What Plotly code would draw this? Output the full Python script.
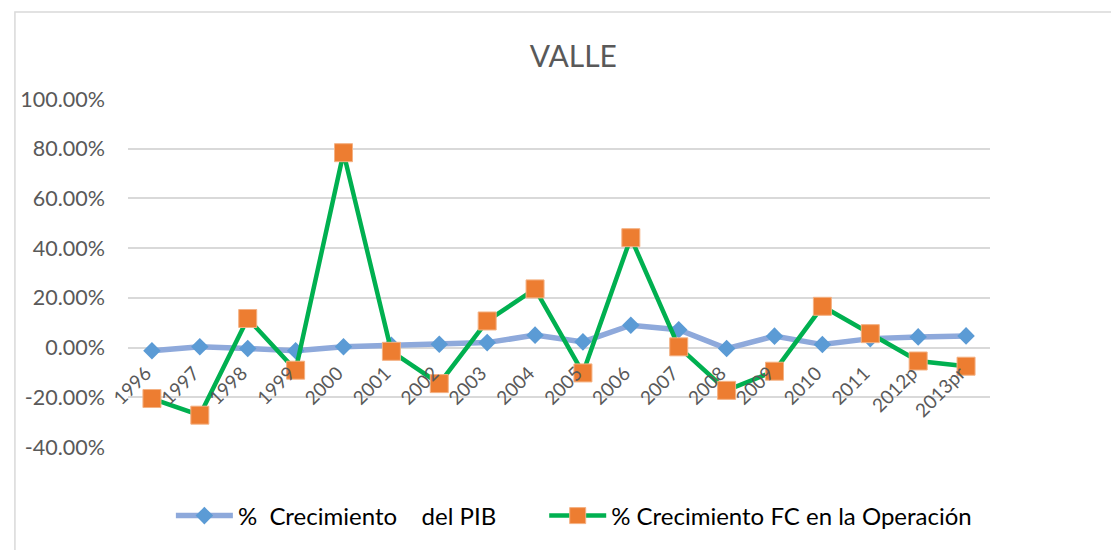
import plotly.graph_objects as go

years = ["1996", "1997", "1998", "1999", "2000", "2001", "2002", "2003", "2004",
         "2005", "2006", "2007", "2008", "2009", "2010", "2011", "2012p", "2013pr"]
pib = [-0.013, 0.003, -0.004, -0.013, 0.003, 0.009, 0.013, 0.020, 0.050,
       0.023, 0.090, 0.072, -0.004, 0.046, 0.012, 0.036, 0.043, 0.047]
fc = [-0.205, -0.272, 0.117, -0.091, 0.784, -0.015, -0.145, 0.107, 0.236,
      -0.102, 0.442, 0.003, -0.172, -0.095, 0.166, 0.056, -0.054, -0.075]
ytick_vals = [-0.4, -0.2, 0.0, 0.2, 0.4, 0.6, 0.8, 1.0]
ytick_text = ["-40.00%", "-20.00%", "0.00%", "20.00%", "40.00%", "60.00%", "80.00%", "100.00%"]

OFF = 8  # page body margin
W, H = 1119 - OFF, 550 - OFF
L, R, T, B = 121, 990, 99, 447  # plot area in reference pixel coords
ymin, ymax = -0.4, 1.0

fig = go.Figure()
fig.add_trace(go.Scatter(
    x=years, y=pib, mode="lines+markers",
    name="%\u00a0 Crecimiento \u00a0\u00a0\u00a0del PIB" + "\u00a0" * 7,
    line=dict(color="#8EA9DB", width=5.5),
    marker=dict(symbol="diamond", size=13.5, color="#5B9BD5"),
))
fig.add_trace(go.Scatter(
    x=years, y=fc, mode="lines+markers",
    name="% Crecimiento FC en la Operación",
    line=dict(color="#00B050", width=4.5),
    marker=dict(symbol="square", size=18, color="#ED7D31",
                line=dict(color="#F4B183", width=1)),
))

pw = R - L
ph = B - T
zero_pos = (0 - ymin) / (ymax - ymin)

fig.update_layout(
    width=W, height=H,
    margin=dict(l=L - OFF, r=W - (R - OFF), t=T - OFF, b=H - (B - OFF), pad=0),
    paper_bgcolor="white", plot_bgcolor="white",
    font=dict(family="Lato, Open Sans, sans-serif", color="#595959"),
    title=dict(text="VALLE", x=(570 - L) / pw, xref="paper", xanchor="center",
               y=1 - (56 - OFF) / H, yanchor="middle",
               font=dict(size=30, color="#595959", family="Lato, sans-serif")),
    showlegend=True,
    legend=dict(orientation="h", x=(570.5 - L) / pw, xanchor="center",
                y=(B - 516) / ph, yanchor="middle",
                font=dict(size=24, color="#000000", family="Lato, sans-serif"),
                itemwidth=57, tracegroupgap=0),
    xaxis=dict(
        type="category", anchor="free", position=zero_pos,
        showgrid=False, showline=False, zeroline=False,
        ticks="", tickangle=-45,
        tickfont=dict(size=19, color="#595959"),
        ticklabelstandoff=10, ticklabelshift=-6,
        range=[-0.5, len(years) - 0.5],
    ),
    yaxis=dict(
        range=[ymin, ymax], tickvals=ytick_vals, ticktext=ytick_text,
        showgrid=True, gridcolor="#D9D9D9", gridwidth=1.5,
        zeroline=False, showline=False, ticks="",
        tickfont=dict(size=21.5, color="#595959"),
        ticklabelstandoff=22,
    ),
    shapes=[dict(type="rect", xref="paper", yref="paper",
                 x0=(7 - L) / pw, x1=(1135 - L) / pw,
                 y0=(B - 580) / ph, y1=(B - 12) / ph,
                 line=dict(color="#D9D9D9", width=1.5), fillcolor="rgba(0,0,0,0)",
                 layer="below")],
)

fig.write_html("out.html")
